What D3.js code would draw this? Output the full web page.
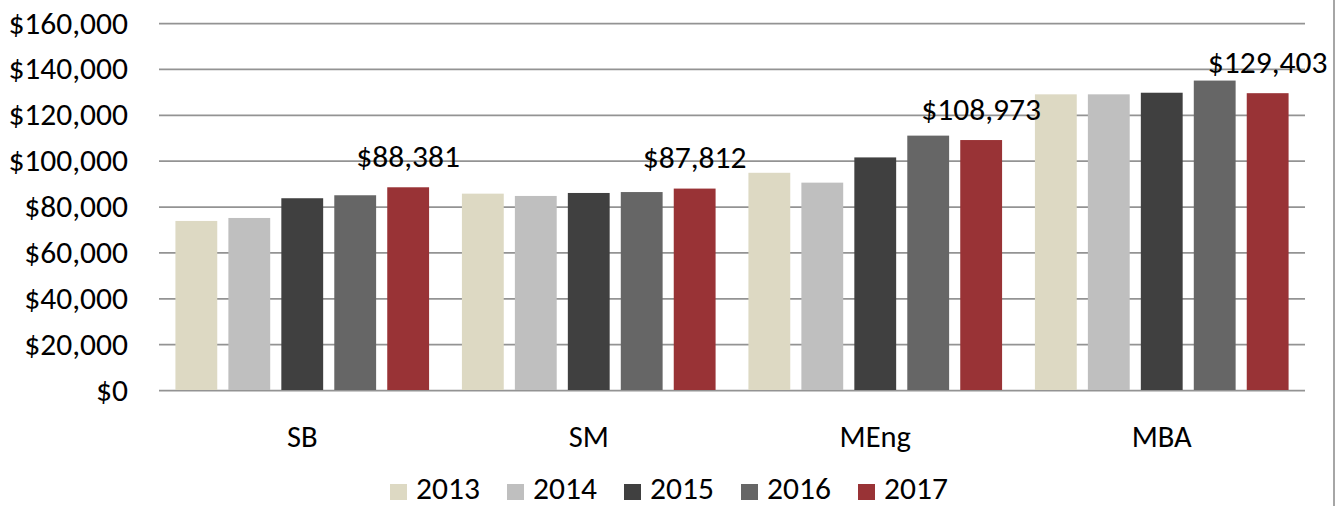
<!DOCTYPE html>
<html>
<head>
<meta charset="utf-8">
<script src="https://cdn.jsdelivr.net/npm/d3@7"></script>
<style>
  body { margin: 0; background: #fff; }
  svg text { font-family: Carlito, Calibri, Lato, sans-serif; fill: #000; }
</style>
</head>
<body>
<div id="container"></div>
<script>
// chart data
const degrees = ['SB', 'SM', 'MEng', 'MBA'];
const years = ['2013', '2014', '2015', '2016', '2017'];
const salary2013 = [73700, 85600, 94700, 128900];
const salary2014 = [75000, 84600, 90400, 128900];
const salary2015 = [83600, 85900, 101400, 129600];
const salary2016 = [84900, 86300, 110900, 134900];
const salary2017 = [88381, 87812, 108973, 129403];
const yTicks = [0, 20000, 40000, 60000, 80000, 100000, 120000, 140000, 160000];
const labelledYear = '2017';

const colors = ['#DDD9C3', '#BFBFBF', '#404040', '#666666', '#993336'];
const seriesValues = [salary2013, salary2014, salary2015, salary2016, salary2017];

const width = 1339;
const height = 506;
const margin = {top: 23, right: 34, bottom: 116, left: 159};
const fontSize = 31.5;

const svg = d3.select('#container')
    .append('svg')
    .attr('width', width)
    .attr('height', height);

const x0 = d3.scaleBand()
    .domain(degrees)
    .range([margin.left, width - margin.right]);

const x1 = d3.scaleBand()
    .domain(years)
    .range([0, x0.bandwidth()])
    .paddingInner(0.21)
    .paddingOuter(0.31);

const y = d3.scaleLinear()
    .domain([0, 160000])
    .range([height - margin.bottom, margin.top]);

const fmt = d3.format('$,');

// gridlines + y labels
const yAxis = svg.append('g')
    .call(d3.axisLeft(y)
        .tickValues(yTicks)
        .tickFormat(fmt)
        .tickSize(-(width - margin.left - margin.right))
        .tickPadding(31))
    .attr('transform', 'translate(' + margin.left + ',0)');
yAxis.select('.domain').remove();
yAxis.selectAll('line').attr('stroke', '#939393').attr('stroke-width', 1.75);
yAxis.selectAll('text')
    .attr('font-size', fontSize)
    .style('font-family', 'Carlito, Calibri, Lato, sans-serif');

// bars
const rows = degrees.map((d, i) => ({
    degree: d,
    values: years.map((yr, j) => ({ year: yr, value: seriesValues[j][i], color: colors[j] }))
}));

const groups = svg.append('g')
    .selectAll('g')
    .data(rows)
    .join('g')
    .attr('transform', d => 'translate(' + x0(d.degree) + ',0)');

groups.selectAll('rect')
    .data(d => d.values)
    .join('rect')
    .attr('x', d => x1(d.year))
    .attr('width', x1.bandwidth())
    .attr('y', d => y(d.value))
    .attr('height', d => y(0) - y(d.value))
    .attr('fill', d => d.color);

// value labels on the last year, drawn above all bars
const labelIdx = years.indexOf(labelledYear);
svg.append('g')
    .selectAll('text')
    .data(degrees)
    .join('text')
    .attr('x', (d, i) => x0(d) + x1(labelledYear) + x1.bandwidth() / 2)
    .attr('y', (d, i) => y(seriesValues[labelIdx][i]) - 20.5)
    .attr('text-anchor', 'middle')
    .attr('font-size', fontSize)
    .text((d, i) => fmt(seriesValues[labelIdx][i]));

// category labels
svg.append('g')
    .selectAll('text')
    .data(degrees)
    .join('text')
    .attr('x', d => x0(d) + x0.bandwidth() / 2)
    .attr('y', 447)
    .attr('text-anchor', 'middle')
    .attr('font-size', 30.5)
    .text(d => d);

// legend
const legend = svg.append('g')
    .attr('transform', 'translate(390,0)');
const item = legend.selectAll('g')
    .data(years)
    .join('g')
    .attr('transform', (d, i) => 'translate(' + (i * 117) + ',0)');
item.append('rect')
    .attr('x', 0)
    .attr('y', 484)
    .attr('width', 17)
    .attr('height', 16)
    .attr('fill', (d, i) => colors[i]);
item.append('text')
    .attr('x', 26)
    .attr('y', 499)
    .attr('font-size', fontSize)
    .text(d => d);

// chart frame edge on the right
svg.append('line')
    .attr('x1', 1334).attr('x2', 1334)
    .attr('y1', 0).attr('y2', height)
    .attr('stroke', '#a6a6a6')
    .attr('stroke-width', 2);
</script>
</body>
</html>
